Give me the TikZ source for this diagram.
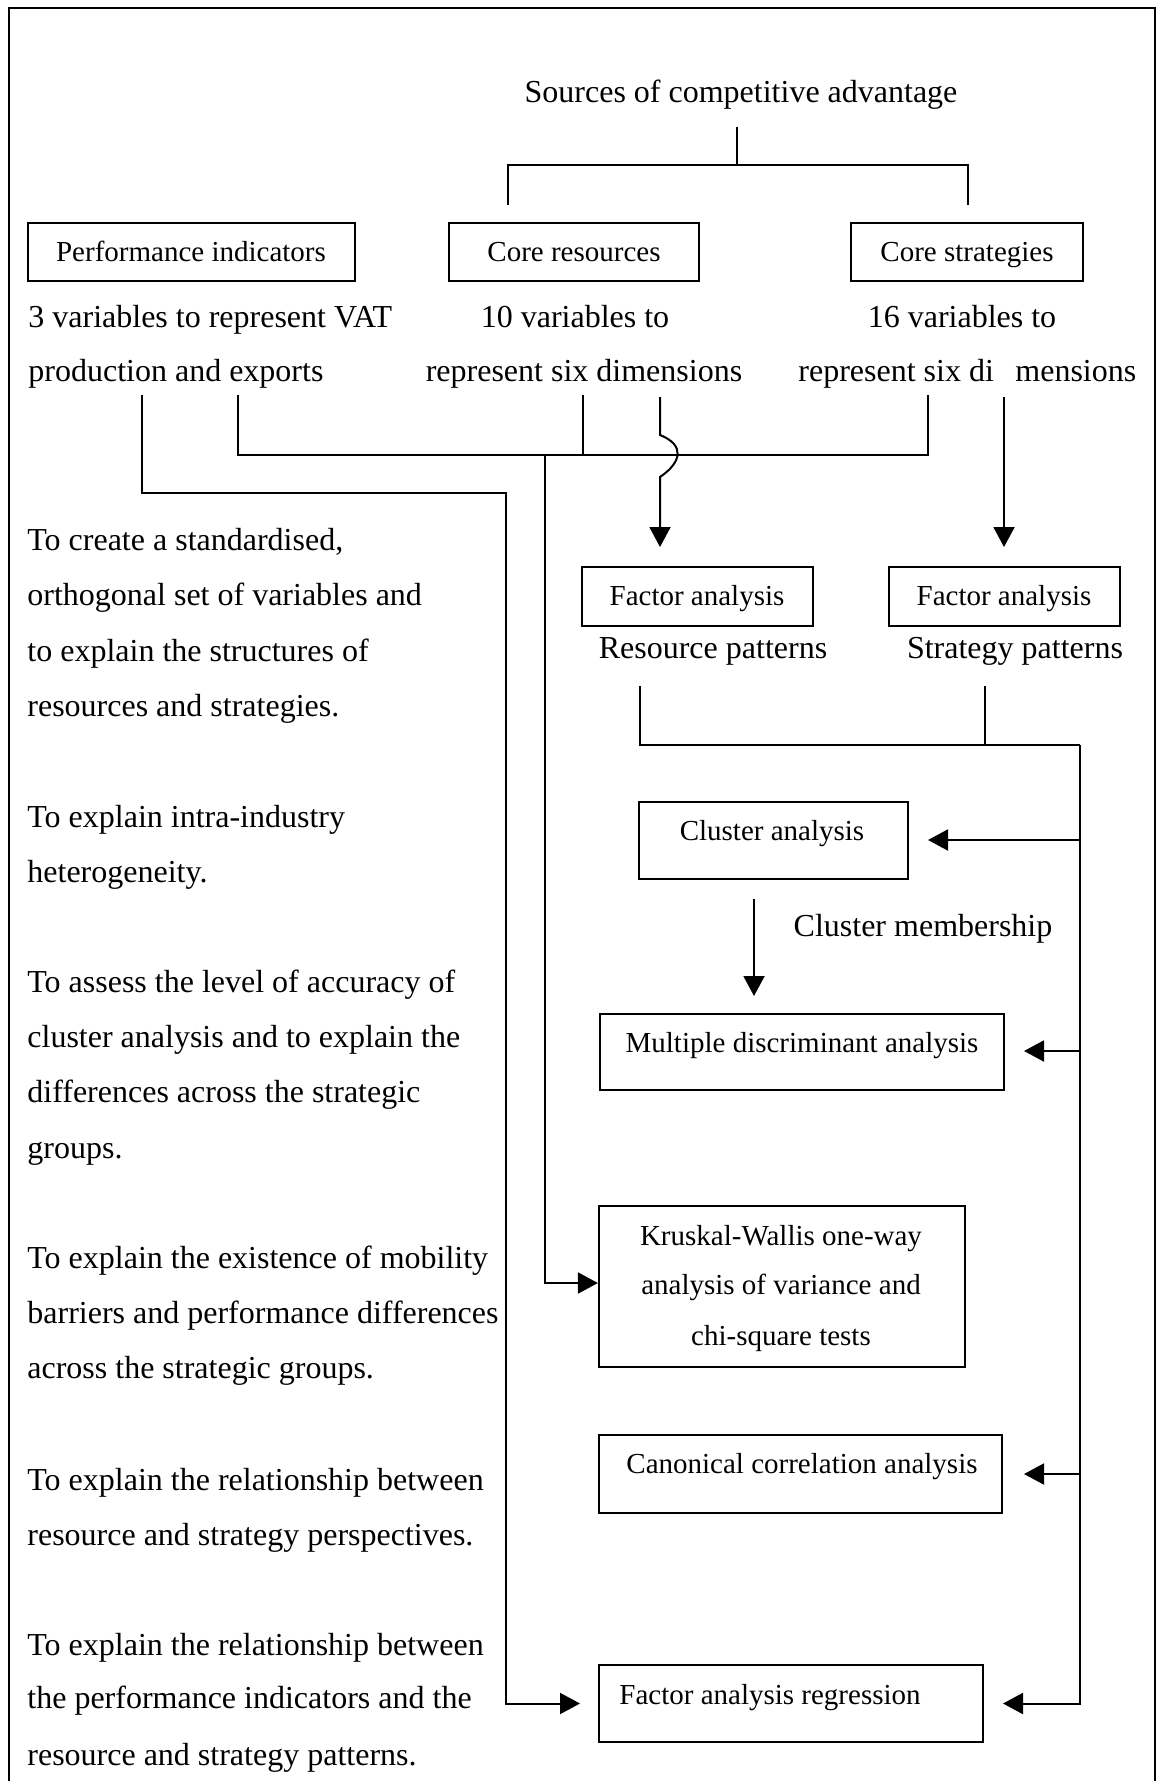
\documentclass[tikz,border=0pt]{standalone}
\usepackage{fontspec}
\setmainfont{Liberation Serif}
\usetikzlibrary{arrows.meta,fit}

\tikzset{
  lbl/.style={font=\fontsize{16}{19}\selectfont, inner sep=0pt},
  btx/.style={font=\fontsize{14.5}{17}\selectfont, inner sep=0pt},
  box/.style={draw, line width=1.1pt, inner sep=0pt},
  ln/.style={line width=1pt, line join=miter},
  arr/.style={ln, -{Triangle[length=10pt,width=10.5pt]}},
}

\begin{document}
\begin{tikzpicture}[x=0.5pt, y=-0.5pt]
\useasboundingbox (0,0) rectangle (1159,1781);

% frame (open at the bottom)
\draw[line width=1.1pt] (9,1781) -- (9,8) -- (1155,8) -- (1155,1781);

% ---------- heading and the three sources ----------
\node[lbl, anchor=base] (src) at (741,103) {Sources of competitive advantage};

\node[box, fit={(28,223)(355,281)}] (perf) {};
\node[btx, anchor=base] (perft) at (191,261.5) {Performance indicators};
\node[box, fit={(449,223)(699,281)}] (res) {};
\node[btx, anchor=base] (rest) at (574,262) {Core resources};
\node[box, fit={(851,223)(1083,281)}] (str) {};
\node[btx, anchor=base] (strt) at (967,262) {Core strategies};

\node[lbl, anchor=base west] (perfa) at (28,328) {3 variables to represent VAT};
\node[lbl, anchor=base west] (perfb) at (28,381) {production and exports};
\node[lbl, anchor=base] (resa) at (575,328) {10 variables to};
\node[lbl, anchor=base] (resb) at (584,381) {represent six dimensions};
\node[lbl, anchor=base] (stra) at (962,328) {16 variables to};
\node[lbl, anchor=base west] (strb) at (798,381) {represent six di};
\node[lbl, anchor=base west] (strc) at (1015,381) {mensions};

% ---------- analysis boxes ----------
\node[box, fit={(582,567)(813,626)}] (fa1) {};
\node[btx, anchor=base] (fa1t) at (697,605) {Factor analysis};
\node[box, fit={(889,567)(1120,626)}] (fa2) {};
\node[btx, anchor=base] (fa2t) at (1004,605) {Factor analysis};
\node[lbl, anchor=base] (rpat) at (713,658) {Resource patterns};
\node[lbl, anchor=base] (spat) at (1015,658) {Strategy patterns};

\node[box, fit={(639,802)(908,879)}] (clu) {};
\node[btx, anchor=base] (clut) at (772,840) {Cluster analysis};
\node[lbl, anchor=base] (cmem) at (923,936) {Cluster membership};

\node[box, fit={(600,1014)(1004,1090)}] (mda) {};
\node[btx, anchor=base] (mdat) at (802,1052) {Multiple discriminant analysis};

\node[box, fit={(599,1206)(965,1367)}] (kw) {};
\node[btx, anchor=base] (kwa) at (781,1245) {Kruskal-Wallis one-way};
\node[btx, anchor=base] (kwb) at (781,1294) {analysis of variance and};
\node[btx, anchor=base] (kwc) at (781,1345) {chi-square tests};

\node[box, fit={(599,1435)(1002,1513)}] (cca) {};
\node[btx, anchor=base] (ccat) at (802,1473) {Canonical correlation analysis};

\node[box, fit={(599,1665)(983,1742)}] (far) {};
\node[btx, anchor=base west] (fart) at (619,1704) {Factor analysis regression};

% ---------- purposes in the left column ----------
\node[lbl, anchor=base west] (p1a) at (27,550) {To create a standardised,};
\node[lbl, anchor=base west] (p1b) at (27,605) {orthogonal set of variables and};
\node[lbl, anchor=base west] (p1c) at (27,661) {to explain the structures of};
\node[lbl, anchor=base west] (p1d) at (27,716) {resources and strategies.};

\node[lbl, anchor=base west] (p2a) at (27,827) {To explain intra-industry};
\node[lbl, anchor=base west] (p2b) at (27,882) {heterogeneity.};

\node[lbl, anchor=base west] (p3a) at (27,992) {To assess the level of accuracy of};
\node[lbl, anchor=base west] (p3b) at (27,1047) {cluster analysis and to explain the};
\node[lbl, anchor=base west] (p3c) at (27,1102) {differences across the strategic};
\node[lbl, anchor=base west] (p3d) at (27,1158) {groups.};

\node[lbl, anchor=base west] (p4a) at (27,1268) {To explain the existence of mobility};
\node[lbl, anchor=base west] (p4b) at (27,1323) {barriers and performance differences};
\node[lbl, anchor=base west] (p4c) at (27,1378) {across the strategic groups.};

\node[lbl, anchor=base west] (p5a) at (27,1490) {To explain the relationship between};
\node[lbl, anchor=base west] (p5b) at (27,1545) {resource and strategy perspectives.};

\node[lbl, anchor=base west] (p6a) at (27,1655) {To explain the relationship between};
\node[lbl, anchor=base west] (p6b) at (27,1708) {the performance indicators and the};
\node[lbl, anchor=base west] (p6c) at (27,1765) {resource and strategy patterns.};

% ---------- connector points ----------
\coordinate (srcL) at (737,127);
\coordinate (srcJ) at (737,165);
\coordinate (resT) at (508,205);
\coordinate (strT) at (968,205);

\coordinate (perfD1) at (142,395);
\coordinate (perfD2) at (238,395);
\coordinate (resD1) at (583,395);
\coordinate (resD2) at (660,397);
\coordinate (strD1) at (928,395);
\coordinate (strD2) at (1004,397);
\coordinate (busA) at (238,455);
\coordinate (busK) at (545,455);
\coordinate (fa1A) at (660,547);
\coordinate (fa2A) at (1004,547);

\coordinate (fa1D) at (640,686);
\coordinate (fa2D) at (985,686);
\coordinate (busR) at (1080,745);
\coordinate (cluD) at (754,899);
\coordinate (mdaA) at (754,996);

% title tree
\draw[ln] (srcL) -- (srcJ);
\draw[ln] (resT) |- (srcJ) -| (strT);

% performance indicators to the regression
\draw[arr] (perfD1) -- (142,493) -- (506,493) |- (far.west -| 580,0);

% all variables to the Kruskal-Wallis tests
\draw[ln] (perfD2) -- (busA) -| (strD1);
\draw[ln] (resD1) -- (resD1 |- busA);
\draw[arr] (busK) |- (kw.west |- 0,1283);

% variables to the two factor analyses (the first one hops over the bus)
\draw[arr] (resD2) -- (660,435)
  .. controls (685,445) and (682,462) .. (660,477) -- (fa1A);
\draw[arr] (strD2) -- (fa2A);

% resource and strategy patterns to the later analyses
\draw[ln] (fa1D) |- (busR);
\draw[ln] (fa2D) -- (fa2D |- busR);
\draw[arr] (busR) |- (far.east -| 1003,0);
\draw[arr] (busR |- 0,840) -- (928,840);
\draw[arr] (busR |- 0,1051) -- (1024,1051);
\draw[arr] (busR |- 0,1474) -- (1024,1474);

% cluster membership
\draw[arr] (cluD) -- (mdaA);
\end{tikzpicture}
\end{document}
